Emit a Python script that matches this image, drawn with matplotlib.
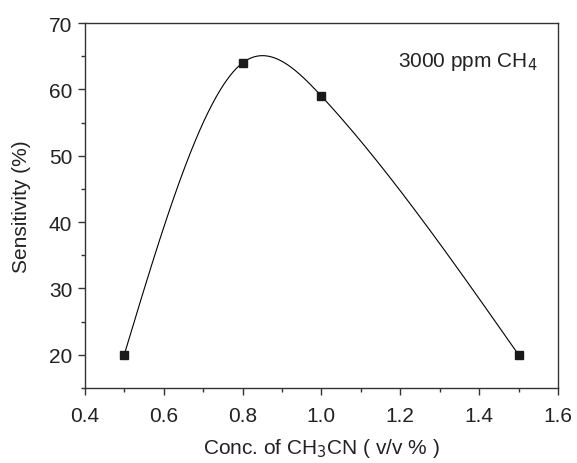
import numpy as np
import matplotlib
matplotlib.use("Agg")
import matplotlib.pyplot as plt

plt.rcParams['font.family'] = ['Liberation Sans', 'DejaVu Sans']

conc = [0.5, 0.8, 1.0, 1.5]
sensitivity = [20, 64, 59, 20]

def natural_spline(x, y, xs):
    x = np.asarray(x, float); y = np.asarray(y, float)
    n = len(x)
    h = np.diff(x)
    A = np.zeros((n, n)); b = np.zeros(n)
    A[0, 0] = 1; A[-1, -1] = 1
    for i in range(1, n - 1):
        A[i, i - 1] = h[i - 1]
        A[i, i] = 2 * (h[i - 1] + h[i])
        A[i, i + 1] = h[i]
        b[i] = 3 * ((y[i + 1] - y[i]) / h[i] - (y[i] - y[i - 1]) / h[i - 1])
    c = np.linalg.solve(A, b)
    bb = np.zeros(n - 1); d = np.zeros(n - 1)
    for i in range(n - 1):
        bb[i] = (y[i + 1] - y[i]) / h[i] - h[i] * (2 * c[i] + c[i + 1]) / 3
        d[i] = (c[i + 1] - c[i]) / (3 * h[i])
    idx = np.clip(np.searchsorted(x, xs) - 1, 0, n - 2)
    dx = xs - x[idx]
    return y[idx] + bb[idx] * dx + c[idx] * dx ** 2 + d[idx] * dx ** 3

fig = plt.figure(figsize=(5.77, 4.64), dpi=100)
ax = fig.add_axes([0.147, 0.162, 0.82, 0.786])

xs = np.linspace(conc[0], conc[-1], 400)
ax.plot(xs, natural_spline(conc, sensitivity, xs), color='black', lw=0.8)
ax.plot(conc, sensitivity, 's', color='#1a1a1a', markersize=6)

ax.set_xlim(0.4, 1.6)
ax.set_ylim(15, 70)
ax.set_xticks([0.4, 0.6, 0.8, 1.0, 1.2, 1.4, 1.6])
ax.set_xticks(np.arange(0.5, 1.6, 0.2), minor=True)
ax.set_yticks([20, 30, 40, 50, 60, 70])
ax.set_yticks(np.arange(15, 70, 10), minor=True)
ax.set_xticklabels(['0.4', '0.6', '0.8', '1.0', '1.2', '1.4', '1.6'])

for s in ax.spines.values():
    s.set_color('#333333')
    s.set_linewidth(1.0)

ax.tick_params(which='major', direction='out', length=5, width=1, labelsize=15, pad=4,
               colors='#333333', labelcolor='#222222')
ax.tick_params(axis='x', which='major', pad=8)
ax.tick_params(which='minor', direction='out', length=3, width=1, colors='#333333')
ax.tick_params(top=False, right=False, which='both')

ax.set_xlabel('Conc. of CH$_3$CN ( v/v % )', fontsize=15, color='#222222', labelpad=8)
ax.set_ylabel('Sensitivity (%)', fontsize=15, color='#222222', labelpad=13)
ax.text(0.956, 0.896, '3000 ppm CH$_4$', transform=ax.transAxes, ha='right', va='center',
        fontsize=15, color='#222222')

fig.savefig('out.png', dpi=100)
